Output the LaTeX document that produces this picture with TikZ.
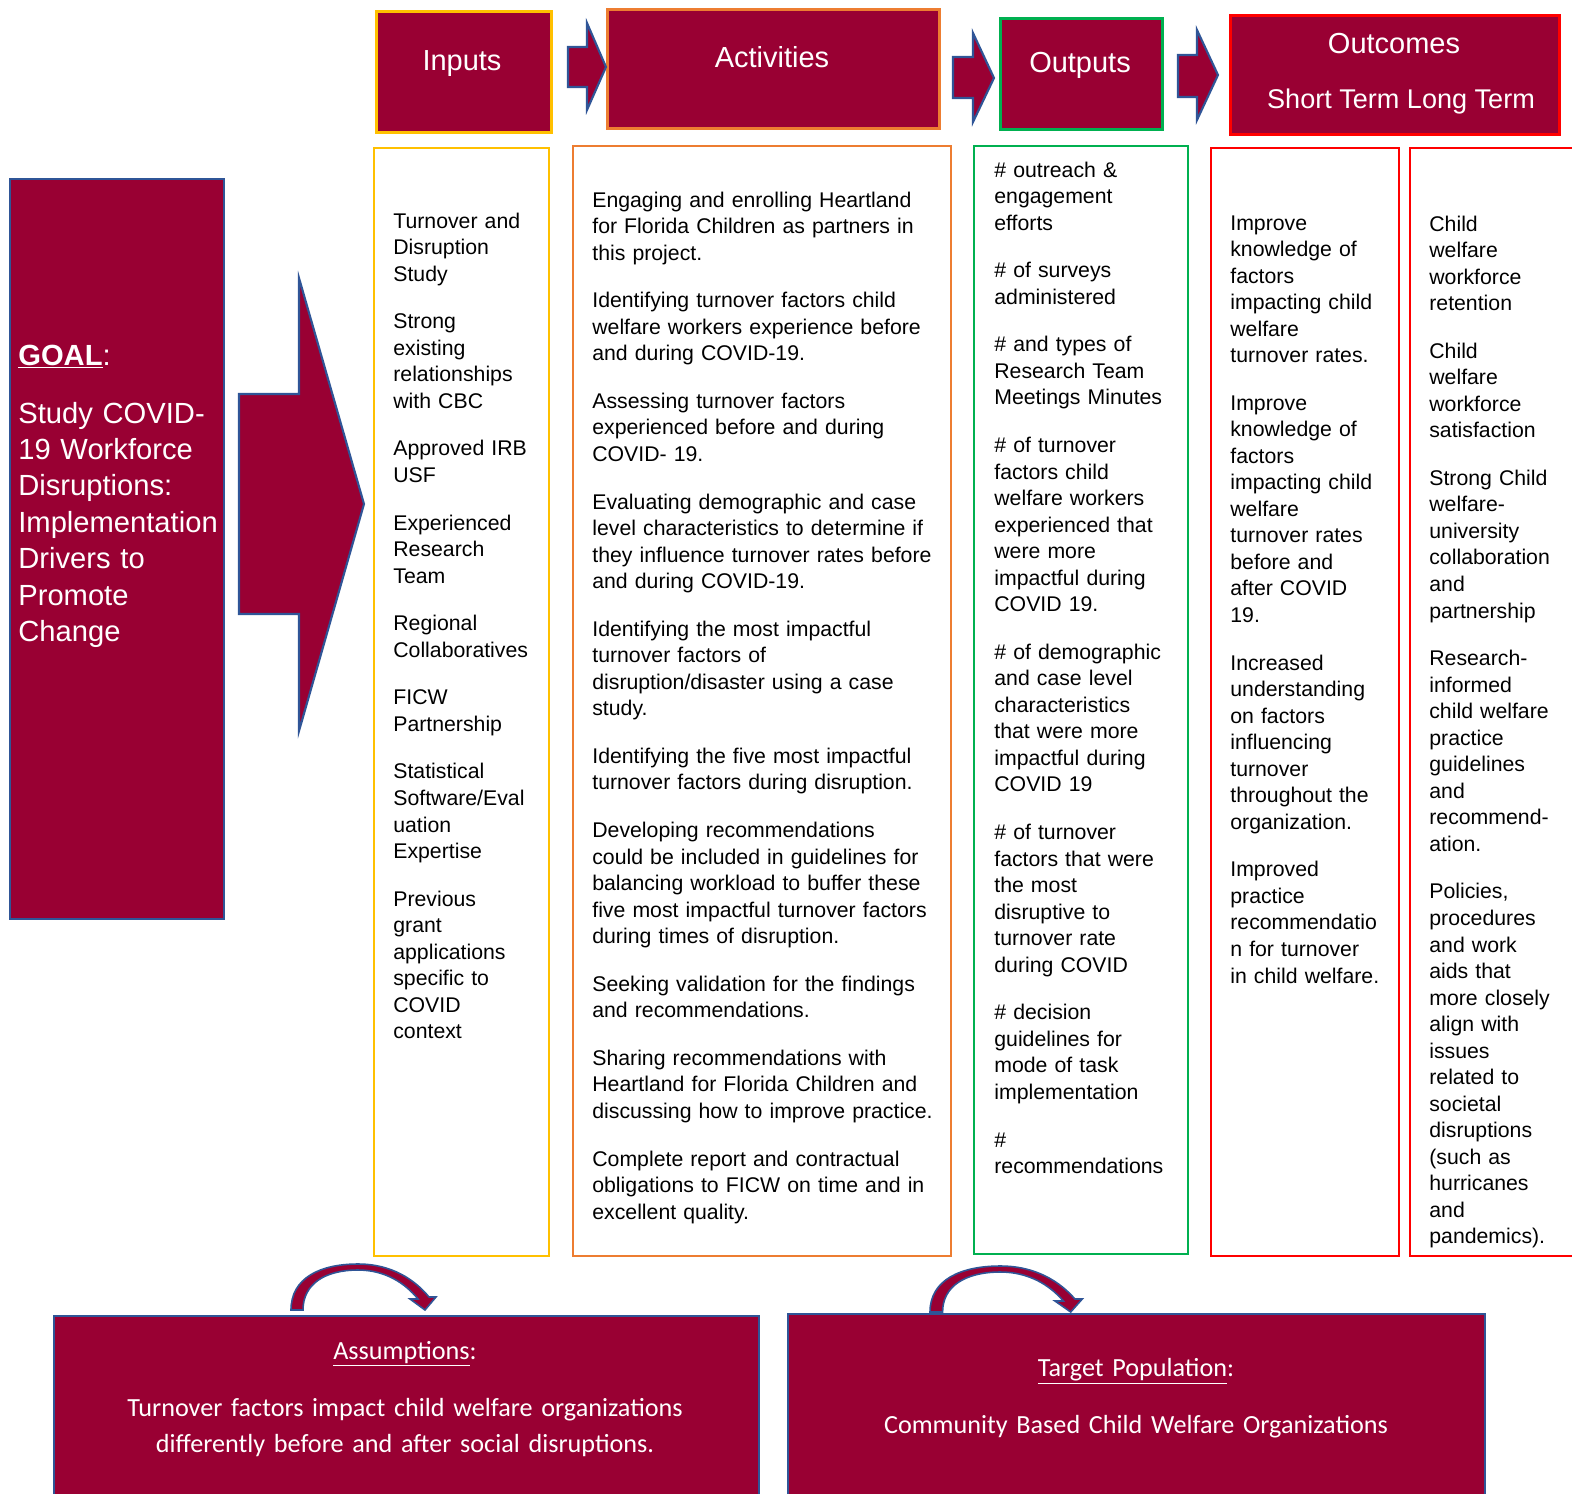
\documentclass[tikz,border=0pt]{standalone}
\usepackage{fontspec}
\setmainfont{Liberation Sans}
\newfontfamily\calibri{Carlito}
\usetikzlibrary{positioning}

\definecolor{wine}{RGB}{153,0,51}
\definecolor{edgeblue}{RGB}{47,85,151}
\definecolor{inkgold}{RGB}{255,192,0}
\definecolor{inkorange}{RGB}{237,125,49}
\definecolor{inkgreen}{RGB}{0,176,80}
\definecolor{inkred}{RGB}{255,0,0}

\tikzset{
  hdrbox/.style={draw, fill=wine, line width=1.6pt, anchor=north west, inner sep=0pt},
  colbox/.style={draw, line width=1.1pt, anchor=north west, inner sep=0pt},
  hdrtext/.style={text=white, anchor=base, inner sep=0pt, font=\fontsize{16.5}{20}\selectfont},
  coltext/.style={anchor=base west, text width=7.5cm, align=left, inner sep=0pt,
    font=\fontsize{12.1}{15.1}\selectfont},
  bottomtext/.style={text=white, anchor=base, text width=13.5cm, align=center, inner sep=0pt,
    font=\calibri\fontsize{14.9}{20.5}\selectfont},
  blockarrow/.style={fill=wine, draw=edgeblue, line width=1.2pt, line join=miter},
}

\begin{document}
\begin{tikzpicture}[x=0.02cm, y=-0.02cm]
  \useasboundingbox (0,0) rectangle (1572,1494);
  \clip (0,0) rectangle (1572,1494);

  % header row
  \node[hdrbox, draw=inkgold, minimum width=3.5cm, minimum height=2.42cm] (inputs) at (375,10) {};
  \node[hdrbox, draw=inkorange, minimum width=6.64cm, minimum height=2.38cm] (activities) at (606,8) {};
  \node[hdrbox, draw=inkgreen, minimum width=3.24cm, minimum height=2.22cm] (outputs) at (999,17) {};
  \node[hdrbox, draw=inkred, minimum width=6.58cm, minimum height=2.38cm] (outcomes) at (1229,14) {};

  \node[hdrtext] (inputs-t) at (462,70) {Inputs};
  \node[hdrtext] (activities-t) at (772,67) {Activities};
  \node[hdrtext] (outputs-t) at (1080,72) {Outputs};
  \node[hdrtext] (outcomes-t) at (1394,53) {Outcomes};
  \node[hdrtext, font=\fontsize{15.4}{19}\selectfont] (terms-t) at (1401,108) {Short Term Long Term};

  % block arrows between the headers
  \draw[blockarrow] (568,47) -- (587,47) -- (587,23) -- (606,67) -- (587,110) -- (587,87) -- (568,87) -- cycle;
  \draw[blockarrow] (953,57) -- (973,57) -- (973,33) -- (994,78) -- (973,122) -- (973,98) -- (953,98) -- cycle;
  \draw[blockarrow] (1178,55) -- (1197,55) -- (1197,30) -- (1218,75) -- (1197,120) -- (1197,97) -- (1178,97) -- cycle;

  % goal box and big arrow
  \node[hdrbox, draw=edgeblue, line width=1.1pt, minimum width=4.28cm, minimum height=14.8cm] (goal) at (9,178) {};
  \node[anchor=base west, text width=4.2cm, align=left, text=white, inner sep=0pt,
    font=\fontsize{16.6}{20.7}\selectfont] (goal-t) at (18,365)
    {\textbf{\underline{GOAL}}:\\[12.4pt]
     Study COVID-\\19 Workforce\\Disruptions:\\Implementation\\Drivers to\\Promote\\Change};
  \draw[blockarrow] (239,394) -- (299,394) -- (299,278) -- (364,504) -- (299,731) -- (299,614) -- (239,614) -- cycle;

  % columns
  \node[colbox, draw=inkgold, minimum width=3.5cm, minimum height=22.16cm] (inputs-c) at (373,147) {};
  \node[colbox, draw=inkorange, minimum width=7.56cm, minimum height=22.2cm] (activities-c) at (572,145) {};
  \node[colbox, draw=inkgreen, minimum width=4.28cm, minimum height=22.16cm] (outputs-c) at (973,145) {};
  \node[colbox, draw=inkred, minimum width=3.76cm, minimum height=22.16cm] (short-c) at (1210,147) {};
  \node[colbox, draw=inkred, minimum width=4.2cm, minimum height=22.16cm] (long-c) at (1409,147) {};

  \node[coltext] (inputs-x) at (393,228) {Turnover and\\Disruption\\Study\\[12pt]
    Strong\\existing\\relationships\\with CBC\\[12pt]
    Approved IRB\\USF\\[12pt]
    Experienced\\Research\\Team\\[12pt]
    Regional\\Collaboratives\\[12pt]
    FICW\\Partnership\\[12pt]
    Statistical\\Software/Eval\\uation\\Expertise\\[12pt]
    Previous\\grant\\applications\\specific to\\COVID\\context};

  \node[coltext] (activities-x) at (592,207) {Engaging and enrolling Heartland\\for Florida Children as partners in\\this project.\\[12pt]
    Identifying turnover factors child\\welfare workers experience before\\and during COVID-19.\\[12pt]
    Assessing turnover factors\\experienced before and during\\COVID- 19.\\[12pt]
    Evaluating demographic and case\\level characteristics to determine if\\they influence turnover rates before\\and during COVID-19.\\[12pt]
    Identifying the most impactful\\turnover factors of\\disruption/disaster using a case\\study.\\[12pt]
    Identifying the five most impactful\\turnover factors during disruption.\\[12pt]
    Developing recommendations\\could be included in guidelines for\\balancing workload to buffer these\\five most impactful turnover factors\\during times of disruption.\\[12pt]
    Seeking validation for the findings\\and recommendations.\\[12pt]
    Sharing recommendations with\\Heartland for Florida Children and\\discussing how to improve practice.\\[12pt]
    Complete report and contractual\\obligations to FICW on time and in\\excellent quality.};

  \node[coltext] (outputs-x) at (994,177) {\# outreach \&\\engagement\\efforts\\[12pt]
    \# of surveys\\administered\\[12pt]
    \# and types of\\Research Team\\Meetings Minutes\\[12pt]
    \# of turnover\\factors child\\welfare workers\\experienced that\\were more\\impactful during\\COVID 19.\\[12pt]
    \# of demographic\\and case level\\characteristics\\that were more\\impactful during\\COVID 19\\[12pt]
    \# of turnover\\factors that were\\the most\\disruptive to\\turnover rate\\during COVID\\[12pt]
    \# decision\\guidelines for\\mode of task\\implementation\\[12pt]
    \#\\recommendations};

  \node[coltext] (short-x) at (1230,230) {Improve\\knowledge of\\factors\\impacting child\\welfare\\turnover rates.\\[12pt]
    Improve\\knowledge of\\factors\\impacting child\\welfare\\turnover rates\\before and\\after COVID\\19.\\[12pt]
    Increased\\understanding\\on factors\\influencing\\turnover\\throughout the\\organization.\\[12pt]
    Improved\\practice\\recommendatio\\n for turnover\\in child welfare.};

  \node[coltext] (long-x) at (1429,231) {Child\\welfare\\workforce\\retention\\[12pt]
    Child\\welfare\\workforce\\satisfaction\\[12pt]
    Strong Child\\welfare-\\university\\collaboration\\and\\partnership\\[12pt]
    Research-\\informed\\child welfare\\practice\\guidelines\\and\\recommend-\\ation.\\[12pt]
    Policies,\\procedures\\and work\\aids that\\more closely\\align with\\issues\\related to\\societal\\disruptions\\(such as\\hurricanes\\and\\pandemics).};

  % curved arrows over the bottom boxes
  \foreach \sx/\sy/\sc in {291/1310/1, 930/1312/1.05}{
    \begin{scope}[shift={(\sx,\sy)}, xscale=\sc]
      \draw[fill=wine, draw=edgeblue, line width=0.9pt, line join=miter]
        (0,0) .. controls (0,-32) and (29,-46) .. (67,-46)
        .. controls (101,-46) and (124,-30) .. (138,-13)
        -- (145,-13) -- (134,0) -- (119,-11) -- (127,-11)
        .. controls (114,-27) and (94,-40) .. (67,-40)
        .. controls (34,-40) and (12,-26) .. (12,0) -- cycle;
    \end{scope}
  }

  % bottom boxes
  \node[hdrbox, draw=edgeblue, line width=1.1pt, minimum width=14.1cm, minimum height=4.2cm] (assume) at (53,1315) {};
  \node[hdrbox, draw=edgeblue, line width=1.1pt, minimum width=13.94cm, minimum height=4.2cm] (target) at (787,1313) {};

  \node[bottomtext] (assume-h) at (405,1359) {\underline{Assumptions}:};
  \node[bottomtext] (assume-x) at (405,1416) {Turnover factors impact child welfare organizations\\differently before and after social disruptions.};
  \node[bottomtext] (target-h) at (1136,1376) {\underline{Target Population}:};
  \node[bottomtext] (target-x) at (1136,1433) {Community Based Child Welfare Organizations};
\end{tikzpicture}
\end{document}
